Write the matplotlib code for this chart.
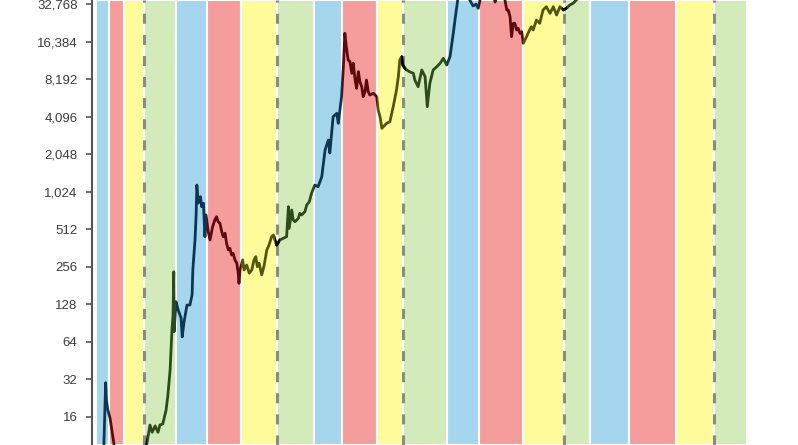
import matplotlib
matplotlib.use("Agg")
from matplotlib import pyplot as plt
from matplotlib import transforms
from matplotlib.patches import Rectangle
from matplotlib.ticker import FuncFormatter

# price (fractional year, USD)
years = [2011.30, 2011.38, 2011.43, 2011.45, 2011.49, 2011.55, 2011.60, 2011.66, 2011.71, 2011.90, 2012.10, 2012.30, 2012.45,
         2012.55, 2012.64, 2012.70, 2012.78, 2012.86, 2012.91, 2012.99, 2013.08, 2013.13, 2013.19, 2013.24, 2013.27, 2013.29, 2013.30, 2013.35,
         2013.41, 2013.49, 2013.52, 2013.57, 2013.65, 2013.73, 2013.79, 2013.81, 2013.87, 2013.90, 2013.92, 2013.96, 2014.02, 2014.05, 2014.10, 2014.14, 2014.17,
         2014.23, 2014.28, 2014.35, 2014.41, 2014.46, 2014.50, 2014.55, 2014.60, 2014.64, 2014.69, 2014.73, 2014.78, 2014.82, 2014.87, 2014.91, 2014.96, 2015.01, 2015.05, 2015.07, 2015.10,
         2015.17, 2015.21, 2015.28, 2015.35, 2015.42, 2015.48, 2015.53, 2015.57, 2015.62, 2015.69, 2015.75, 2015.83, 2015.89, 2015.96, 2016.01, 2016.05, 2016.10,
         2016.19, 2016.28, 2016.37, 2016.42, 2016.44, 2016.51, 2016.55, 2016.60, 2016.69, 2016.73, 2016.78, 2016.87, 2016.92, 2016.99, 2017.05,
         2017.14, 2017.23, 2017.33, 2017.42, 2017.51, 2017.55, 2017.64, 2017.74, 2017.78, 2017.87, 2017.92, 2017.96,
         2018.00, 2018.05, 2018.10, 2018.15, 2018.19, 2018.24, 2018.28, 2018.33, 2018.37, 2018.42, 2018.46, 2018.51, 2018.55, 2018.60, 2018.64, 2018.74, 2018.83,
         2018.87, 2018.92, 2018.97, 2019.01, 2019.10, 2019.19, 2019.28, 2019.37, 2019.42, 2019.46, 2019.51, 2019.54, 2019.60,
         2019.65, 2019.74, 2019.83, 2019.87, 2019.96, 2020.06, 2020.15, 2020.21, 2020.28, 2020.37, 2020.47, 2020.56, 2020.65, 2020.74,
         2020.83, 2020.92, 2020.99, 2021.06, 2021.15, 2021.28, 2021.37, 2021.46, 2021.54, 2021.60, 2021.65, 2021.80, 2021.87, 2022.00,
         2022.06, 2022.14, 2022.25, 2022.33, 2022.38, 2022.42, 2022.47, 2022.51, 2022.56, 2022.60, 2022.65, 2022.69, 2022.74, 2022.79,
         2022.83, 2022.92, 2022.96, 2023.05, 2023.10, 2023.19, 2023.28, 2023.37, 2023.46, 2023.56, 2023.65, 2023.74, 2023.83, 2023.92,
         2024.01, 2024.10, 2024.19, 2024.33, 2024.45]
prices = [5, 9, 30, 21.8, 18.1, 15.6, 12.5, 9.5, 6.0, 3, 5, 6, 7,
          9.5, 13.7, 12.0, 13.5, 12.0, 13.7, 14.0, 18.1, 23.9, 37.9, 79.4, 105, 233, 77, 134,
          115, 99, 70, 92, 126, 126, 152, 241, 420, 666, 1158, 831, 933, 776, 826, 446, 666,
          489, 420, 536, 607, 645, 588, 571, 489, 446, 475, 395, 349, 360, 318, 328, 290, 273, 227, 188, 241,
          290, 241, 264, 227, 241, 290, 308, 256, 273, 220, 256, 349, 382, 446, 460, 420, 382,
          420, 433, 446, 776, 520, 730, 607, 588, 626, 687, 666, 708, 801, 851, 994,
          1158, 1123, 1351, 2213, 2662, 2094, 4097, 4364, 3626, 5929, 10323, 19137,
          14937, 11683, 11325, 9136, 10992, 8071, 6923, 9413, 7823, 7129, 5929, 6502, 8071, 6502, 6116, 6311, 5929,
          4636, 4097, 3304, 3404, 3626, 3733, 4926, 6708, 8581, 11683, 12419, 10650, 10022,
          9710, 9360, 9136, 8071, 7129, 9710, 8581, 4926, 7592, 9710, 10323, 10992, 12051, 10650,
          12419, 19137, 27697, 38841, 55000, 60000, 35413, 31700, 32800, 30378, 35400, 60000, 67000, 46000,
          34100, 41000, 42000, 35400, 29440, 29440, 26007, 17970, 23022, 23022, 20341, 20990, 19137, 19711,
          15905, 17970, 19137, 21620, 20341, 24471, 23022, 29440, 31288, 27697, 31288, 26836, 31288, 29440,
          30378, 32287, 33316, 36747, 60000]

# phase bands: blue, red, yellow, green repeating
band_edges = [2011.17, 2011.52, 2011.93, 2012.48, 2013.35, 2014.19, 2015.12, 2016.11, 2017.11, 2017.88,
              2018.85, 2019.55, 2020.76, 2021.61, 2022.81, 2023.95, 2024.66, 2025.72, 2027.00, 2028.04, 2028.94]
halvings = [2012.48, 2016.11, 2019.55, 2023.95, 2028.04]
yticks = [16, 32, 64, 128, 256, 512, 1024, 2048, 4096, 8192, 16384, 32768]

band_colors = ["#a6d6ee", "#f59c9c", "#fefc9a", "#d3eabb"]
line_colors = ["#0c3652", "#5c0a0e", "#55550e", "#2c4a1a"]

plt.rcParams["font.family"] = ["Liberation Sans", "DejaVu Sans"]

fig = plt.figure(figsize=(7.98, 4.45), dpi=100)
ax = fig.add_axes([91.5 / 798, 0, 1 - 91.5 / 798, 1])
ax.set_yscale("log")
ax.set_xlim(2011.044, 2030.33)
ax.set_ylim(2 ** 3.245, 2 ** 15.112)

for i in range(len(band_edges) - 1):
    ax.axvspan(band_edges[i], band_edges[i + 1], facecolor=band_colors[i % 4],
               edgecolor="white", linewidth=1.5, zorder=0)

for h in halvings:
    ax.axvline(h, color="#8a8a8a", linewidth=2.2, linestyle=(0, (3.3, 3.6)), zorder=1)

trans = transforms.blended_transform_factory(ax.transData, ax.transAxes)
for i in range(len(band_edges) - 1):
    ln, = ax.plot(years, prices, color=line_colors[i % 4], linewidth=2.0,
                  solid_joinstyle="round", zorder=2)
    ln.set_clip_path(Rectangle((band_edges[i], 0), band_edges[i + 1] - band_edges[i], 1,
                               transform=trans))
for h in halvings:
    ln, = ax.plot(years, prices, color="black", linewidth=2.0, solid_joinstyle="round", zorder=3)
    ln.set_clip_path(Rectangle((h - 0.07, 0), 0.14, 1, transform=trans))

ax.set_yticks(yticks)
ax.yaxis.set_major_formatter(FuncFormatter(lambda v, p: f"{int(round(v)):,}"))
ax.yaxis.set_minor_locator(matplotlib.ticker.NullLocator())
ax.tick_params(axis="y", direction="out", length=4, width=1.2, color="#555555",
               labelsize=9.5, labelcolor="#3c3c3c", pad=6)
ax.set_xticks([])
for s in ["top", "right", "bottom"]:
    ax.spines[s].set_visible(False)
ax.spines["left"].set_color("#555555")
ax.spines["left"].set_linewidth(1.5)

plt.savefig("out.png", dpi=100)
